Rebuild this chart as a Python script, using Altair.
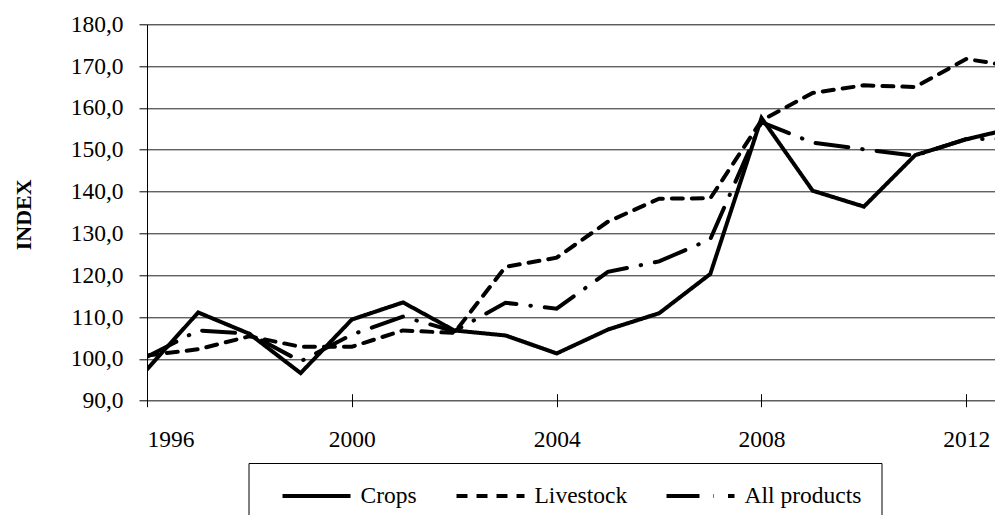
import altair as alt
import pandas as pd

years = list(range(1996, 2014))
crops = [97.5, 111.1, 106.0, 96.6, 109.4, 113.5, 106.8, 105.6, 101.3, 107.0,
         110.9, 120.3, 157.6, 140.2, 136.4, 148.7, 152.5, 155.4]
livestock = [100.8, 102.3, 105.4, 102.9, 102.9, 106.8, 106.2, 122.0, 124.2, 132.8,
             138.3, 138.4, 157.0, 163.6, 165.4, 165.0, 171.7, 169.8]
all_products = [100.5, 106.8, 106.0, 99.4, 105.8, 110.1, 106.6, 113.4, 112.0, 120.8,
                123.3, 128.6, 156.6, 151.7, 150.1, 148.6, 152.6, 152.6]
series_names = ["Crops", "Livestock", "All products"]
x_ticks = [1996, 2000, 2004, 2008, 2012]
y_ticks = [90, 100, 110, 120, 130, 140, 150, 160, 170, 180]

rows = []
for name, vals in zip(series_names, [crops, livestock, all_products]):
    for yr, v in zip(years, vals):
        rows.append({"year": yr, "value": v, "series": name})
df = pd.DataFrame(rows)

FONT = "Liberation Serif"
FS = 23.5

chart = alt.Chart(df).mark_line(
    clip=True, strokeWidth=4, strokeCap="round", color="black"
).encode(
    x=alt.X(
        "year:Q",
        scale=alt.Scale(domain=[1996, 2012.56], nice=False, zero=False),
        axis=alt.Axis(
            values=x_ticks, format="d", title=None, grid=False, domain=False,
            tickSize=13, offset=-7, tickColor="black", tickWidth=1,
            labelPadding=21, labelFontSize=FS, labelFont=FONT, labelColor="black",
        ),
    ),
    y=alt.Y(
        "value:Q",
        scale=alt.Scale(domain=[90, 180], nice=False, zero=False),
        axis=alt.Axis(
            values=y_ticks, title="INDEX",
            labelExpr="replace(format(datum.value, '.1f'), '.', ',')",
            domain=True, domainColor="black", domainWidth=1,
            tickSize=8, tickColor="black", tickWidth=1,
            grid=True, gridColor="#222222", gridWidth=1,
            labelPadding=16, labelFontSize=FS, labelFont=FONT, labelColor="black",
            titleFont=FONT, titleFontSize=22, titleFontWeight="bold", titleColor="black",
            titleAngle=270, titleBaseline="alphabetic", titleAlign="center",
            titleX=-117, titleY=190,
        ),
    ),
    strokeDash=alt.StrokeDash(
        "series:N",
        sort=series_names,
        scale=alt.Scale(domain=series_names, range=[[1, 0], [11, 9], [33, 14, 0.5, 14]]),
        legend=alt.Legend(
            title=" ", titleOrient="left", titleFontSize=10, titlePadding=12,
            orient="none", legendX=101.5, legendY=438.7,
            direction="horizontal", columns=3,
            symbolType="stroke", symbolSize=4624, symbolStrokeWidth=4,
            symbolStrokeColor="black",
            labelFont=FONT, labelFontSize=FS, labelColor="black", labelOffset=8,
            columnPadding=37, padding=20, strokeColor="black", clipHeight=26,
            labelLimit=0,
        ),
    ),
).properties(
    width=848,
    height=376.4,
    autosize=alt.AutoSizeParams(type="none"),
    padding={"left": 139, "top": 16.3, "right": 0, "bottom": 114.3},
).configure_view(stroke=None).configure(background="white")

chart.save("out.html", embed_options={"renderer": "svg", "actions": False})
